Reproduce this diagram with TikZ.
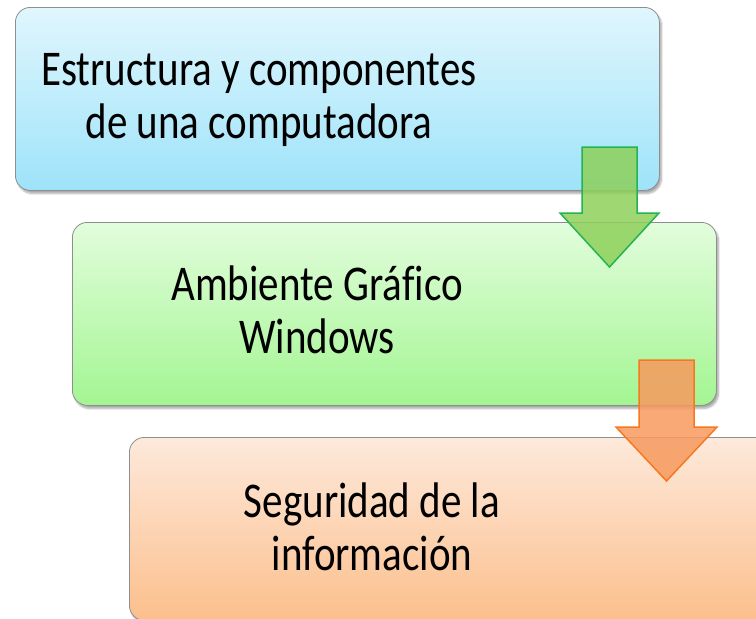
\documentclass[tikz,border=0pt]{standalone}
\usepackage{fontspec}
\setmainfont[FakeStretch=0.82, Ligatures=NoCommon]{Carlito}
\usetikzlibrary{shadows.blur}
\definecolor{boxline}{HTML}{8E8E8E}
\definecolor{blueTop}{HTML}{E0F6FD}
\definecolor{blueBot}{HTML}{9EE3FA}
\definecolor{greenTop}{HTML}{E2FDDC}
\definecolor{greenBot}{HTML}{A3F592}
\definecolor{orangeTop}{HTML}{FDE9DB}
\definecolor{orangeBot}{HTML}{FCBF8C}
\definecolor{garrowFill}{HTML}{8ED05A}
\definecolor{garrowLine}{HTML}{22B450}
\definecolor{oarrowFill}{HTML}{F79A5E}
\definecolor{oarrowLine}{HTML}{F7781E}
\begin{document}
\begin{tikzpicture}[x=1pt,y=-1pt,
  box/.style={draw=boxline, line width=0.8pt, rounded corners=15pt,
    minimum width=644pt, minimum height=183pt, anchor=north west, inner sep=0pt,
    blur shadow={shadow xshift=2pt, shadow yshift=-3pt, shadow opacity=35, shadow blur steps=6}},
  lbl/.style={align=center, font=\fontsize{50}{53}\selectfont, inner sep=0pt},
  blockarrow/.style={line width=1.5pt, line join=miter, fill opacity=0.85}]
\useasboundingbox (0,0) rectangle (756,619);
\clip (0,0) rectangle (756,619);
\node[box, top color=blueTop, bottom color=blueBot] (b1) at (15,7) {};
\node[box, top color=greenTop, bottom color=greenBot] (b2) at (72,222) {};
\node[box, top color=orangeTop, bottom color=orangeBot] (b3) at (129,437) {};
\node[lbl, anchor=base] (t1) at (259,138) {Estructura y componentes\\de una computadora};
\node[lbl, anchor=base] (t2) at (317,353) {Ambiente Gráfico\\Windows};
\node[lbl, anchor=base] (t3) at (372,570) {Seguridad de la\\información};
\draw[blockarrow, draw=garrowLine, fill=garrowFill]
  (582,147) -- (637,147) -- (637,213) -- (659,213) -- (609.5,267) -- (560,213) -- (582,213) -- cycle;
\draw[blockarrow, draw=oarrowLine, fill=oarrowFill]
  (639,360) -- (694,360) -- (694,427) -- (717,427) -- (666.5,481) -- (616,427) -- (639,427) -- cycle;
\end{tikzpicture}
\end{document}
